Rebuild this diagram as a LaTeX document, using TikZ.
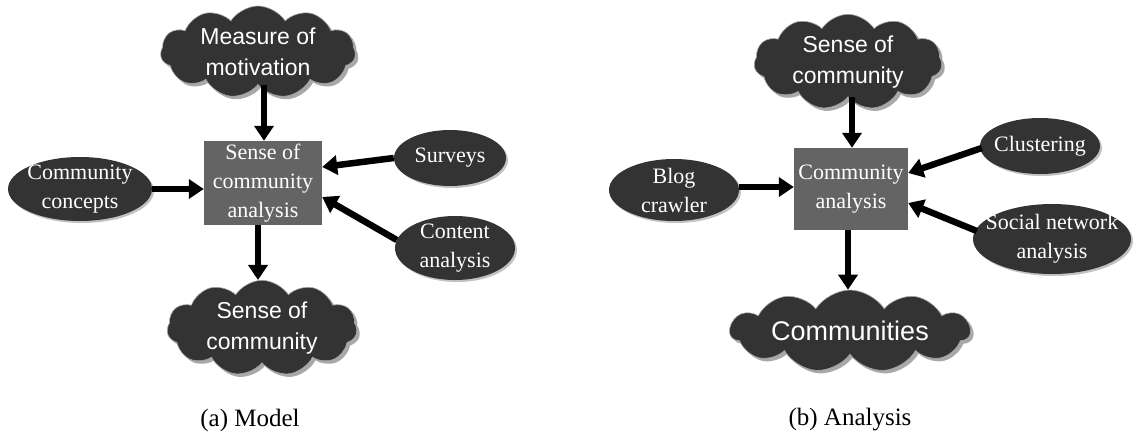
\documentclass[tikz,border=0pt]{standalone}
\usepackage{fontspec}
\setmainfont{Liberation Serif}
\newfontfamily\arialf{Liberation Sans}
\usetikzlibrary{shapes.symbols,shapes.geometric,shadows,arrows.meta,calc}
\definecolor{darkc}{HTML}{333333}
\definecolor{boxc}{HTML}{646464}
\definecolor{shadc}{HTML}{A8A8A8}
\tikzset{
  cloudn/.style={cloud, cloud puffs=11, cloud puff arc=115, cloud ignores aspect,
    fill=darkc, draw=shadc, line width=0.6pt, text=white, align=center, inner sep=0pt,
    font=\arialf\fontsize{23}{31}\selectfont,
    drop shadow={shadow xshift=3pt, shadow yshift=-3pt, fill=shadc, opacity=1}},
  ellip/.style={ellipse, fill=darkc, draw=none, text=white, align=center,
    inner xsep=-4pt, inner ysep=-3pt,
    font=\fontsize{22}{29}\selectfont,
    drop shadow={shadow xshift=2pt, shadow yshift=-2pt, fill=shadc!70, opacity=1}},
  centerbox/.style={rectangle, fill=boxc, draw=none, text=white, align=center, inner sep=0pt,
    font=\fontsize{22}{29}\selectfont},
  arr/.style={line width=6.5pt, -{Triangle[length=15pt,width=19pt]}},
  captxt/.style={font=\fontsize{25}{28}\selectfont, text=black, inner sep=0pt}
}
\begin{document}
\begin{tikzpicture}[x=1pt,y=-1pt]
\useasboundingbox (0,0) rectangle (1133,432);
% ---------- (a) Model ----------
\node[cloudn, minimum width=195pt, minimum height=92pt] (meas) at (258,52) {Measure of\\motivation};
\node[centerbox, minimum width=118pt, minimum height=84pt] (boxA) at (263,183) {Sense of\\community\\analysis};
\node[ellip, minimum width=144pt, minimum height=64pt] (conc) at (80,189) {Community\\concepts};
\node[ellip, minimum width=112pt, minimum height=56pt] (surv) at (450,158) {Surveys};
\node[ellip, minimum width=120pt, minimum height=64pt] (cont) at (455,248) {Content\\analysis};
\node[cloudn, minimum width=190pt, minimum height=92pt] (botA) at (262,328) {Sense of\\community};
\node[captxt] (capA) at (250,420) {(a) Model};
\coordinate (aN) at ($(boxA.north)+(1,0)$);
\coordinate (aS) at ($(boxA.south)+(-5,0)$);
\coordinate (aW) at (boxA.west |- conc.east);
\draw[arr] (meas.south -| aN) -- (aN);
\draw[arr] (conc.east) -- (aW);
\draw[arr] (surv.west) -- ($(boxA.east)+(0,-16)$);
\draw[arr] ($(cont.west)+(2,-8)$) -- ($(boxA.east)+(0,14)$);
\draw[arr] (aS) -- (aS |- botA.north);
% ---------- (b) Analysis ----------
\node[cloudn, minimum width=188pt, minimum height=92pt] (topB) at (848,62) {Sense of\\community};
\node[centerbox, minimum width=114pt, minimum height=82pt] (boxB) at (851,189) {Community\\analysis};
\node[ellip, minimum width=130pt, minimum height=62pt] (blog) at (674,190) {Blog\\crawler};
\node[ellip, minimum width=120pt, minimum height=56pt] (clus) at (1040,146) {Clustering};
\node[ellip, minimum width=158pt, minimum height=70pt, inner xsep=-14pt, inner ysep=-1pt] (soc) at (1052,239) {Social network\\analysis};
\node[cloudn, minimum width=240pt, minimum height=82pt, font=\arialf\fontsize{27}{30}\selectfont] (comm) at (850,331) {Communities};
\node[captxt] (capB) at (850,420) {(b) Analysis};
\coordinate (bN) at ($(boxB.north)+(1,0)$);
\coordinate (bS) at ($(boxB.south)+(-3,0)$);
\coordinate (blogE) at ($(blog.east)+(0,-3)$);
\coordinate (bW) at (boxB.west |- blogE);
\draw[arr] (topB.south -| bN) -- (bN);
\draw[arr] (blogE) -- (bW);
\draw[arr] ($(clus.west)+(2,2)$) -- ($(boxB.east)+(0,-16)$);
\draw[arr] ($(soc.west)+(4,-8)$) -- ($(boxB.east)+(0,14)$);
\draw[arr] (bS) -- (bS |- comm.north);
\end{tikzpicture}
\end{document}
